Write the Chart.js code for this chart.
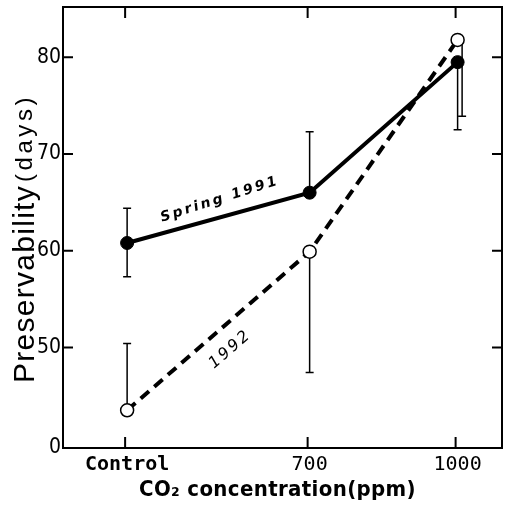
<!DOCTYPE html>
<html>
<head>
<meta charset="utf-8">
<script src="https://cdn.jsdelivr.net/npm/chart.js@4.4.1/dist/chart.umd.min.js"></script>
<style>
  html, body { margin: 0; padding: 0; background: #fff; }
  #wrap { width: 507px; height: 514px; }
</style>
</head>
<body>
<div id="wrap"><canvas id="chart"></canvas></div>
<script>
// values
const categories = ['Control', '700', '1000'];
const co2Positions = [330, 700, 1000];
const spring1991 = [60.8, 66.0, 79.5];
const spring1991Upper = [64.4, 72.3, null];
const spring1991Lower = [57.3, null, 72.5];
const y1992 = [43.5, 59.9, 81.8];
const y1992Upper = [50.4, null, null];
const y1992Lower = [null, 47.4, 73.9];
const yTicks = [50, 60, 70, 80];
const yBreak = 39.6; // broken axis, bottom labelled "0"

const condensed = '"Liberation Sans Narrow", "DejaVu Sans Condensed", "DejaVu Sans", sans-serif';
const mono = '"DejaVu Sans Mono", "Liberation Mono", monospace';

function fitText(ctx, text, x, y, width) {
	ctx.letterSpacing = '0px';
	const w = ctx.measureText(text).width;
	ctx.letterSpacing = ((width - w) / text.length) + 'px';
	ctx.fillText(text, x, y);
	ctx.letterSpacing = '0px';
}

const framePlugin = {
	id: 'frame',
	beforeDatasetsDraw(chart) {
		const { ctx, scales: { x, y } } = chart;
		ctx.save();
		ctx.strokeStyle = '#000';
		ctx.lineWidth = 1.5;
		const errorBar = (i, mid, top, bottom, shift) => {
			const px = x.getPixelForValue(co2Positions[i]) + shift;
			[top, bottom].forEach(v => {
				if (v == null) return;
				const py = y.getPixelForValue(v);
				ctx.beginPath();
				ctx.moveTo(px, y.getPixelForValue(mid));
				ctx.lineTo(px, py);
				ctx.moveTo(px - 4, py);
				ctx.lineTo(px + 4, py);
				ctx.stroke();
			});
		};
		co2Positions.forEach((v, i) => {
			errorBar(i, spring1991[i], spring1991Upper[i], spring1991Lower[i], 0);
			// both bars point down at the same spot: nudge the 1992 one aside
			const both = spring1991Lower[i] != null && y1992Lower[i] != null;
			errorBar(i, y1992[i], y1992Upper[i], y1992Lower[i], both ? 4.5 : 0);
		});
		ctx.restore();
	},
	afterDraw(chart) {
		const { ctx, chartArea: a, scales: { x, y } } = chart;
		ctx.save();
		ctx.strokeStyle = '#000';
		ctx.lineWidth = 2;
		ctx.strokeRect(a.left, a.top, a.right - a.left, a.bottom - a.top);

		// inward ticks
		ctx.beginPath();
		yTicks.forEach(v => {
			const py = y.getPixelForValue(v);
			ctx.moveTo(a.left, py); ctx.lineTo(a.left + 10, py);
			ctx.moveTo(a.right, py); ctx.lineTo(a.right - 10, py);
		});
		co2Positions.forEach(v => {
			const px = x.getPixelForValue(v) - 2;
			ctx.moveTo(px, a.top); ctx.lineTo(px, a.top + 11);
			ctx.moveTo(px, a.bottom); ctx.lineTo(px, a.bottom - 11);
		});
		ctx.stroke();

		ctx.fillStyle = '#000';

		// line labels, rotated along their segments
		const seg = (data, i) => Math.atan2(
			y.getPixelForValue(data[i + 1]) - y.getPixelForValue(data[i]),
			x.getPixelForValue(co2Positions[i + 1]) - x.getPixelForValue(co2Positions[i]));
		const label = (text, xv, yv, angle, font, width) => {
			ctx.save();
			ctx.translate(x.getPixelForValue(xv), y.getPixelForValue(yv));
			ctx.rotate(angle);
			ctx.font = font;
			ctx.textAlign = 'left';
			ctx.textBaseline = 'middle';
			fitText(ctx, text, -width / 2, 0, width);
			ctx.restore();
		};
		label('Spring 1991', 518, 65.3, seg(spring1991, 0) - 0.04, 'italic bold 14px "DejaVu Sans", sans-serif', 124);
		label('1992', 539, 49.8, seg(y1992, 0), 'italic 16px "DejaVu Sans", sans-serif', 50);

		// axis titles
		ctx.font = 'bold 22px ' + condensed;
		ctx.textAlign = 'left';
		ctx.textBaseline = 'middle';
		fitText(ctx, 'CO\u2082 concentration(ppm)', 139, 490, 277);

		ctx.save();
		ctx.translate(34, 383);
		ctx.rotate(-Math.PI / 2);
		ctx.textBaseline = 'alphabetic';
		ctx.textAlign = 'left';
		ctx.font = '30px "Liberation Sans", Arial, sans-serif';
		fitText(ctx, 'Preservability', 0, 0, 198);
		ctx.font = '24px "Liberation Sans", Arial, sans-serif';
		fitText(ctx, '(days)', 201, -2, 88);
		ctx.restore();

		ctx.restore();
	}
};

new Chart(document.getElementById('chart'), {
	type: 'line',
	data: {
		datasets: [{
			label: 'Spring 1991',
			data: co2Positions.map((v, i) => ({ x: v, y: spring1991[i] })),
			borderColor: '#000',
			borderWidth: 4,
			pointRadius: 6.5,
			pointBackgroundColor: '#000',
			pointBorderColor: '#000',
			pointBorderWidth: 1,
			lineTension: 0
		}, {
			label: '1992',
			data: co2Positions.map((v, i) => ({ x: v, y: y1992[i] })),
			borderColor: '#000',
			borderWidth: 4,
			borderDash: [11, 7],
			pointRadius: 6.5,
			pointBackgroundColor: '#fff',
			pointBorderColor: '#000',
			pointBorderWidth: 1.5,
			lineTension: 0
		}]
	},
	options: {
		responsive: true,
		maintainAspectRatio: false,
		animation: false,
		layout: { autoPadding: false, padding: { top: 7, right: 5, left: 0, bottom: 0 } },
		plugins: { legend: { display: false }, tooltip: { enabled: false } },
		scales: {
			x: {
				type: 'linear',
				min: 200,
				max: 1090,
				afterBuildTicks: s => { s.ticks = co2Positions.map(v => ({ value: v })); },
				afterFit: s => { s.height = 66; s.paddingLeft = 0; s.paddingRight = 0; },
				grid: { display: false, drawTicks: false },
				border: { display: false },
				ticks: {
					padding: 5,
					color: '#000',
					maxRotation: 0,
					autoSkip: false,
					callback: (v, i) => categories[i],
					font: c => c.index === 0
						? { family: mono, size: 20, weight: 'bold' }
						: { family: mono, size: 20, weight: 'normal' }
				}
			},
			y: {
				type: 'linear',
				min: yBreak,
				max: 85.2,
				afterBuildTicks: s => { s.ticks = [yBreak, ...yTicks].map(v => ({ value: v })); },
				afterFit: s => { s.width = 63; s.paddingTop = 0; s.paddingBottom = 0; },
				grid: { display: false, drawTicks: false },
				border: { display: false },
				ticks: {
					padding: 2,
					color: '#000',
					autoSkip: false,
					callback: v => v === yBreak ? '0' : v,
					font: { family: condensed, size: 21 }
				}
			}
		}
	},
	plugins: [framePlugin]
});
</script>
</body>
</html>
